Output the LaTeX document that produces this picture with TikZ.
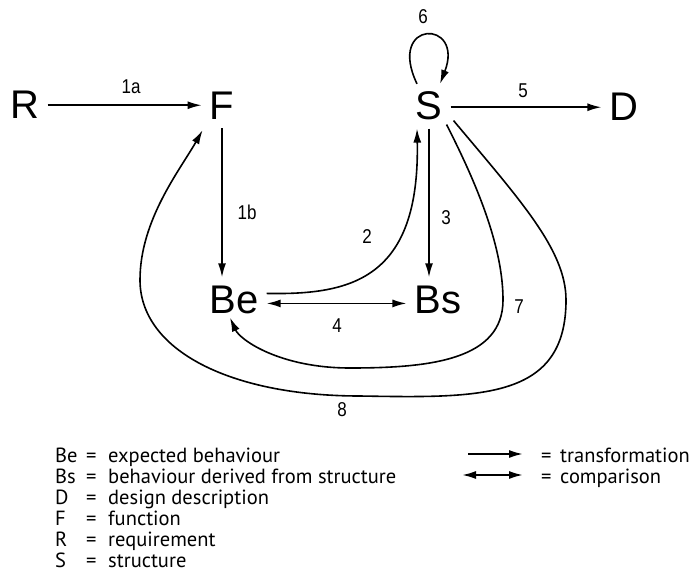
\documentclass[tikz,border=0pt]{standalone}
\usepackage{fontspec}
\setmainfont{Liberation Sans}
\newfontfamily\legfont{PT Sans}
\newfontfamily\lblfont[FakeStretch=0.85]{Liberation Sans}
\usetikzlibrary{arrows.meta,calc}
\begin{document}
\begin{tikzpicture}[x=1pt,y=-1pt,
  mainnode/.style={font=\fontsize{40}{40}\selectfont, inner sep=8pt, anchor=base},
  lbl/.style={font=\lblfont\fontsize{20}{20}\selectfont, inner sep=0pt},
  leg/.style={font=\legfont\fontsize{20.5}{20.5}\selectfont, inner sep=0pt, anchor=base west},
  tr/.style={line width=1.6pt, -{Latex[length=14pt,width=8pt]}},
  cmp/.style={line width=1.6pt, {Latex[length=14pt,width=8pt]}-{Latex[length=14pt,width=8pt]}},
]
\useasboundingbox (0,0) rectangle (692,572);

% main nodes
\node[mainnode] (R)  at (25,119)  {R};
\node[mainnode] (F)  at (222,120) {F};
\node[mainnode] (S)  at (429,120) {S};
\node[mainnode] (D)  at (624,121) {D};
\node[mainnode] (Be) at (234,313) {Be};
\node[mainnode] (Bs) at (438,313) {Bs};

% straight connectors
\draw[tr] (R.east) -- (R.east -| F.west);
\draw[tr] (F.south) -- (F.south |- Be.north);
\draw[tr] (D.west -| S.east) -- (D.west);
\draw[tr] (S.south) -- (S.south |- Bs.north);
\draw[cmp] ([yshift=-4pt]Be.east) -- ([yshift=-4pt]Bs.west);

% loop 6
\draw[tr] ([xshift=-12pt]S.north) .. controls (386,19) and (465,19) .. ([xshift=11pt]S.north);

% edge 2
\draw[tr] ([yshift=6pt]Be.east) .. controls (350,295) and (420,280) .. ([xshift=-12pt]S.south);

% edge 7
\draw[tr] ([xshift=-4pt,yshift=4pt]S.south east) .. controls (480,190) and (503,250) .. (503,300)
  .. controls (503,360) and (430,368) .. (350,368)
  .. controls (280,368) and (240,340) .. ([xshift=-4pt,yshift=4pt]Be.south);

% edge 8
\draw[tr] ([xshift=3pt,yshift=8pt]S.south east) .. controls (520,200) and (566,250) .. (566,300)
  .. controls (566,400) and (480,398) .. (360,396)
  .. controls (230,396) and (140,350) .. (140,280)
  .. controls (140,220) and (180,170) .. ([xshift=1pt,yshift=-2pt]F.south west);

% edge labels
\node[lbl] (l1a) at (131,87)  {1a};
\node[lbl] (l1b) at (247,212) {1b};
\node[lbl] (l2)  at (367,237) {2};
\node[lbl] (l3)  at (446,218) {3};
\node[lbl] (l4)  at (337,326) {4};
\node[lbl] (l5)  at (523,91)  {5};
\node[lbl] (l6)  at (423,17)  {6};
\node[lbl] (l7)  at (519,307) {7};
\node[lbl] (l8)  at (342,410) {8};

% legend left
\foreach \ab/\de [count=\i from 0] in {Be/expected behaviour,Bs/behaviour derived from structure,D/design description,F/function,R/requirement,S/structure}{
  \node[leg] (ka\i) at (55,462+21*\i) {\ab};
  \node[leg] (ke\i) at (86,462+21*\i) {=};
  \node[leg] (kd\i) at (108,462+21*\i) {\de};
}

% legend right
\coordinate (ta) at (468,454);
\coordinate (tb) at (523,454);
\coordinate (ca) at (462,475);
\coordinate (cb) at (523,475);
\draw[tr, line width=1.9pt] (ta) -- (tb);
\draw[cmp, line width=1.9pt] (ca) -- (cb);
\node[leg] (te) at (541,462) {=};
\node[leg] (tt) at (560,462) {transformation};
\node[leg] (ce) at (541,483) {=};
\node[leg] (ct) at (560,483) {comparison};
\end{tikzpicture}
\end{document}
